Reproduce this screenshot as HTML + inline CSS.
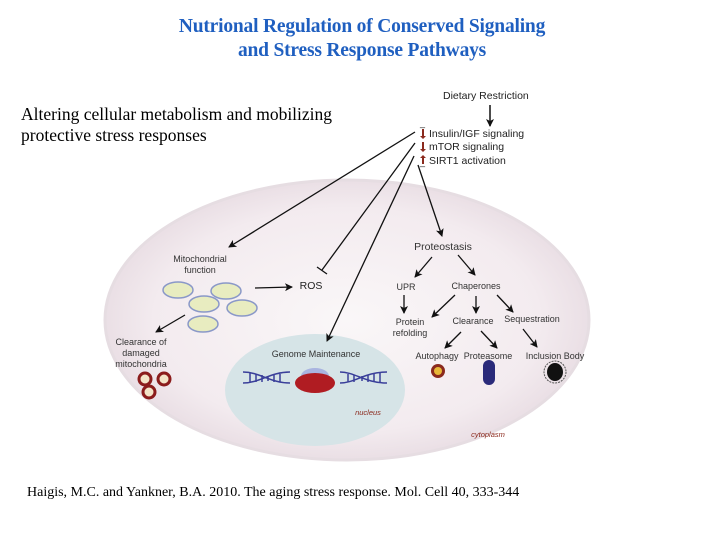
<!DOCTYPE html>
<html><head><meta charset="utf-8"><style>
body{margin:0;background:#fff;width:720px;height:540px;overflow:hidden;position:relative;font-family:"Liberation Sans",sans-serif}
.t{position:absolute;font-family:"Liberation Serif",serif}
</style></head><body>
<div class="t" style="left:0;width:724px;top:15px;text-align:center;color:#1f5fc0;font-weight:bold;font-size:19.5px;line-height:24px;letter-spacing:-0.2px">Nutrional Regulation of Conserved Signaling<br>and Stress Response Pathways</div>
<div class="t" style="left:21px;top:104px;font-size:17.5px;line-height:21px;color:#000">Altering cellular metabolism and mobilizing<br>protective stress responses</div>
<div class="t" style="left:27px;top:485px;font-size:14px;color:#000">Haigis, M.C. and Yankner, B.A. 2010. The aging stress response. Mol. Cell 40, 333-344</div>
<svg width="720" height="540" style="position:absolute;left:0;top:0" font-family="Liberation Sans, sans-serif" font-size="8.5" fill="#222">
<defs>
<radialGradient id="cg" cx="50%" cy="50%" r="50%"><stop offset="0" stop-color="#faf7f8"/><stop offset="0.8" stop-color="#f3ebef"/><stop offset="1" stop-color="#eadfe5"/></radialGradient>
<marker id="a" markerWidth="8" markerHeight="8" refX="7" refY="4" orient="auto" markerUnits="userSpaceOnUse"><path d="M0,0 L8,4 L0,8 L2,4z" fill="#111"/></marker>
</defs>
<ellipse cx="347" cy="320" rx="242" ry="140" fill="url(#cg)" stroke="#e6dde2" stroke-width="3"/>
<ellipse cx="315" cy="390" rx="90" ry="56" fill="#d6e4e7"/>
<text x="443" y="99" font-size="10.5">Dietary Restriction</text>
<line x1="490" y1="105" x2="490" y2="126" stroke="#111" stroke-width="1.5" marker-end="url(#a)"/>
<g font-size="10.5"><text x="429" y="137">Insulin/IGF signaling</text><text x="429" y="150">mTOR signaling</text><text x="429" y="164">SIRT1 activation</text></g>
<g stroke="#8b2a1e" stroke-width="2"><line x1="423" y1="129" x2="423" y2="137"/><line x1="423" y1="142" x2="423" y2="150"/><line x1="423" y1="157" x2="423" y2="164"/></g>
<path d="M420,136l3,3l3,-3z M420,149l3,3l3,-3z M420,158l3,-3l3,3z" fill="#8b2a1e"/>
<text x="420" y="126" font-size="9">_</text><text x="420" y="165" font-size="9">_</text>
<g stroke="#111" stroke-width="1.3" fill="none">
<line x1="415" y1="132" x2="229" y2="247" marker-end="url(#a)"/>
<line x1="415" y1="143" x2="322" y2="270"/><line x1="317" y1="267" x2="327" y2="274"/>
<line x1="414" y1="156" x2="327" y2="341" marker-end="url(#a)"/>
<line x1="418" y1="165" x2="442" y2="236" marker-end="url(#a)"/>
<line x1="255" y1="288" x2="292" y2="287" marker-end="url(#a)"/>
<line x1="185" y1="315" x2="156" y2="332" marker-end="url(#a)"/>
<line x1="432" y1="257" x2="415" y2="277" marker-end="url(#a)"/>
<line x1="458" y1="255" x2="475" y2="275" marker-end="url(#a)"/>
<line x1="404" y1="295" x2="404" y2="313" marker-end="url(#a)"/>
<line x1="455" y1="295" x2="432" y2="317" marker-end="url(#a)"/>
<line x1="476" y1="296" x2="476" y2="313" marker-end="url(#a)"/>
<line x1="497" y1="295" x2="513" y2="312" marker-end="url(#a)"/>
<line x1="461" y1="332" x2="445" y2="348" marker-end="url(#a)"/>
<line x1="481" y1="331" x2="497" y2="348" marker-end="url(#a)"/>
<line x1="523" y1="329" x2="537" y2="347" marker-end="url(#a)"/>
</g>
<g font-size="9" fill="#333" text-anchor="middle">
<text x="200" y="262">Mitochondrial</text><text x="200" y="273">function</text>
<text x="141" y="345">Clearance of</text><text x="141" y="356">damaged</text><text x="141" y="367">mitochondria</text>
<text x="316" y="357">Genome Maintenance</text>
<text x="410" y="325">Protein</text><text x="410" y="336">refolding</text>
<text x="473" y="324">Clearance</text><text x="532" y="322">Sequestration</text>
<text x="437" y="359">Autophagy</text><text x="488" y="359">Proteasome</text><text x="555" y="359">Inclusion Body</text>
<text x="406" y="290">UPR</text><text x="476" y="289">Chaperones</text>
</g>
<text x="311" y="289" font-size="10.5" text-anchor="middle">ROS</text>
<text x="443" y="250" font-size="10.5" text-anchor="middle" fill="#333">Proteostasis</text>
<text x="368" y="415" font-size="7.5" font-style="italic" fill="#8b2a1e" text-anchor="middle">nucleus</text>
<text x="488" y="437" font-size="7.5" font-style="italic" fill="#8b2a1e" text-anchor="middle">cytoplasm</text>
<g fill="#e8ecc0" stroke="#8a98c8" stroke-width="1.5">
<ellipse cx="178" cy="290" rx="15" ry="8"/><ellipse cx="226" cy="291" rx="15" ry="8"/><ellipse cx="204" cy="304" rx="15" ry="8"/><ellipse cx="242" cy="308" rx="15" ry="8"/><ellipse cx="203" cy="324" rx="15" ry="8"/>
</g>
<g fill="#f3e4c8" stroke="#8b1c1c" stroke-width="3"><circle cx="145" cy="379" r="6"/><circle cx="164" cy="379" r="6"/><circle cx="149" cy="392" r="6"/></g>
<g stroke="#3a3f9a" stroke-width="1.5" fill="none">
<path d="M243,372 C260,372 270,383 290,383 M243,383 C260,383 270,372 290,372 M340,372 C355,372 365,383 387,383 M340,383 C355,383 365,372 387,372"/>
<path d="M250,373v9M256,374v8M262,375v7M268,376v5M274,375v7M280,374v8M348,374v8M354,375v7M362,376v5M368,375v7M374,374v8M380,373v9"/>
</g>
<ellipse cx="315" cy="376" rx="14" ry="8" fill="#a9b4e0"/>
<ellipse cx="315" cy="383" rx="20" ry="10" fill="#b01c22"/>
<circle cx="438" cy="371" r="7" fill="#8b2a1e"/><circle cx="438" cy="371" r="4" fill="#e8b838"/>
<rect x="483" y="360" width="12" height="25" rx="6" fill="#2a2a7a"/>
<circle cx="555" cy="372" r="11" fill="none" stroke="#555" stroke-dasharray="2,1"/>
<ellipse cx="555" cy="372" rx="8" ry="9" fill="#111"/>
</svg>
</body></html>
